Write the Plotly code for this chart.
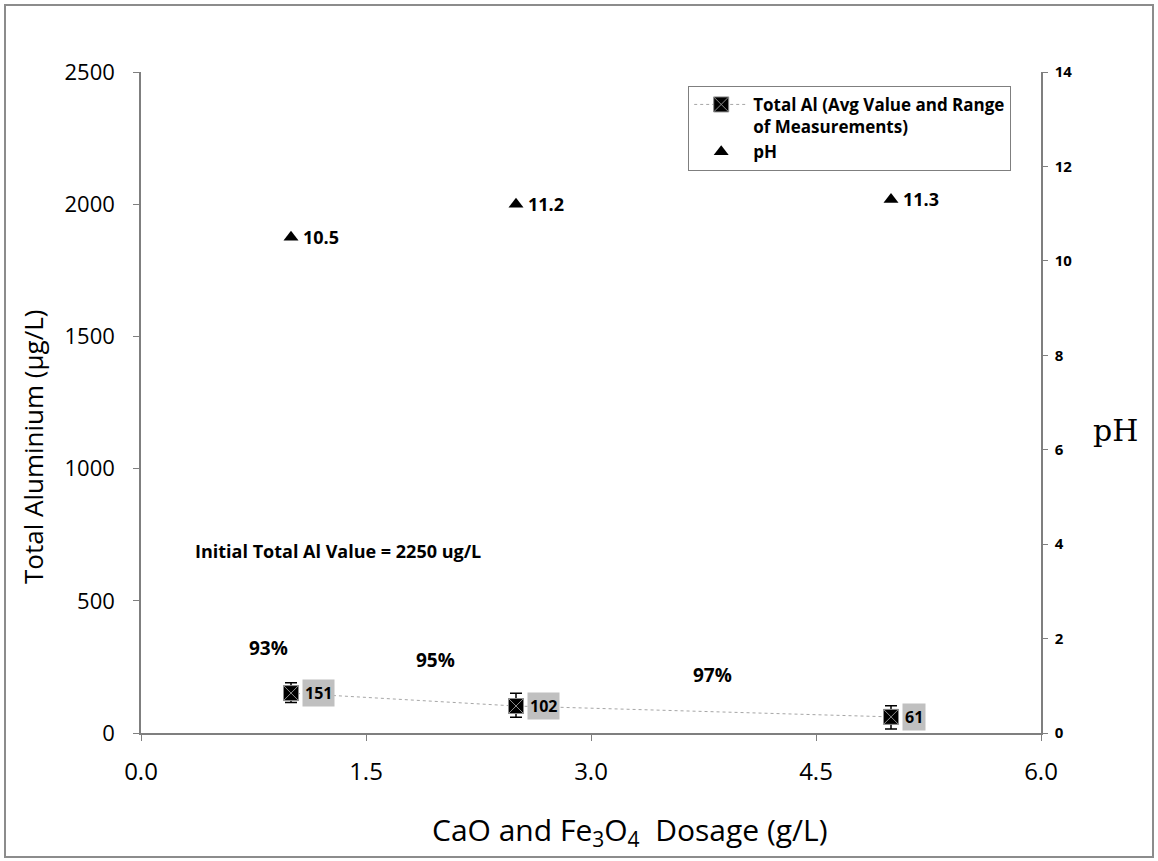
import plotly.graph_objects as go

# Dosage (g/L) and measured total aluminium (ug/L)
dosage = [1.0, 2.5, 5.0]
total_al = [151, 102, 61]
al_err_plus = [39, 48, 42]
al_err_minus = [36, 42, 46]
ph_values = [10.5, 11.2, 11.3]
initial_al = 2250

# removal efficiency relative to the initial value
removal = [round((initial_al - v) / initial_al * 100) for v in total_al]

FONT = "Open Sans"
AXIS_GREY = "#7f7f7f"

fig = go.Figure()

fig.add_trace(go.Scatter(
    x=dosage, y=total_al, mode="lines+markers",
    name="<b>Total Al (Avg Value and Range<br>of Measurements)</b>",
    line=dict(color="#a6a6a6", width=1, dash="dot"),
    marker=dict(symbol="square-x", size=15, color="black",
                line=dict(color="#8c8c8c", width=1)),
    error_y=dict(type="data", array=al_err_plus, arrayminus=al_err_minus,
                 color="black", thickness=1.5, width=6),
    yaxis="y",
))

fig.add_trace(go.Scatter(
    x=dosage, y=ph_values, mode="markers",
    name="<b>pH</b>",
    marker=dict(symbol="triangle-up", size=13, color="black"),
    yaxis="y2",
))

annotations = []
# value tags beside the aluminium markers
for xv, yv in zip(dosage, total_al):
    annotations.append(dict(
        x=xv, y=yv, xref="x", yref="y", text=f"<b>{yv}</b>",
        showarrow=False, xanchor="left", xshift=11,
        bgcolor="#c0c0c0", borderpad=2,
        font=dict(family=FONT, size=16, color="black"),
    ))
# pH value tags
for xv, yv in zip(dosage, ph_values):
    annotations.append(dict(
        x=xv, y=yv, xref="x", yref="y2", text=f"<b>{yv}</b>",
        showarrow=False, xanchor="left", xshift=10,
        font=dict(family=FONT, size=18, color="black"),
    ))
# removal percentages
pct_pos = [(0.85, 321), (1.96, 276), (3.81, 219)]
for (px, py), r in zip(pct_pos, removal):
    annotations.append(dict(
        x=px, y=py, xref="x", yref="y", text=f"<b>{r}%</b>",
        showarrow=False, font=dict(family=FONT, size=19, color="black"),
    ))
annotations.append(dict(
    x=1.31, y=688, xref="x", yref="y",
    text=f"<b>Initial Total Al Value = {initial_al} ug/L</b>",
    showarrow=False, font=dict(family=FONT, size=18, color="black"),
))
# axis titles placed as annotations
annotations.append(dict(
    x=(630 - 141) / 900, y=(733 - 831) / 661, xref="paper", yref="paper",
    text="CaO and Fe<sub>3</sub>O<sub>4</sub>  Dosage (g/L)",
    xanchor="center", yanchor="middle", showarrow=False,
    font=dict(family=FONT, size=30, color="black"),
))
annotations.append(dict(
    x=(33 - 141) / 900, y=(733 - 447) / 661, xref="paper", yref="paper",
    text="Total Aluminium (µg/L)", textangle=-90,
    xanchor="center", yanchor="middle", showarrow=False,
    font=dict(family=FONT, size=26, color="black"),
))
annotations.append(dict(
    x=(1115 - 141) / 900, y=0.458, xref="paper", yref="paper", text="pH",
    xanchor="center", yanchor="middle",
    showarrow=False, font=dict(family="DejaVu Serif", size=30, color="black"),
))

fig.update_layout(
    width=1158, height=861,
    margin=dict(l=141, r=117, t=72, b=128),
    paper_bgcolor="white", plot_bgcolor="white",
    font=dict(family=FONT, color="black"),
    showlegend=True,
    legend=dict(
        x=0.608, y=0.979, xanchor="left", yanchor="top", valign="top",
        bordercolor="#7f7f7f", borderwidth=1, bgcolor="white",
        font=dict(family=FONT, size=17, color="black"),
        itemwidth=54, tracegroupgap=0,
    ),
    xaxis=dict(
        range=[0, 6], tickvals=[0, 1.5, 3, 4.5, 6],
        ticktext=["0.0", "1.5", "3.0", "4.5", "6.0"],
        showgrid=False, zeroline=False, showline=True,
        linecolor=AXIS_GREY, linewidth=1.5,
        ticks="outside", ticklen=6, tickcolor=AXIS_GREY,
        ticklabelstandoff=10,
        tickfont=dict(family=FONT, size=24),
    ),
    yaxis=dict(
        range=[0, 2500], dtick=500,
        showgrid=False, zeroline=False, showline=True,
        linecolor=AXIS_GREY, linewidth=1.5,
        ticks="outside", ticklen=6, tickcolor=AXIS_GREY,
        ticklabelstandoff=14,
        tickfont=dict(family=FONT, size=22),
    ),
    yaxis2=dict(
        range=[0, 14], dtick=2, overlaying="y", side="right",
        showgrid=False, zeroline=False, showline=True,
        linecolor=AXIS_GREY, linewidth=1.5,
        ticks="outside", ticklen=5, tickcolor=AXIS_GREY,
        ticklabelstandoff=4,
        tickfont=dict(family=FONT, size=15, weight="bold"),
    ),
    annotations=annotations,
    shapes=[dict(
        type="rect", xref="paper", yref="paper",
        x0=(5 - 141) / 900, x1=(1153 - 141) / 900,
        y0=(733 - 857) / 661, y1=(733 - 5) / 661,
        line=dict(color="#8c8c8c", width=2), fillcolor="rgba(0,0,0,0)",
        layer="below",
    )],
)

fig.write_html("out.html")
